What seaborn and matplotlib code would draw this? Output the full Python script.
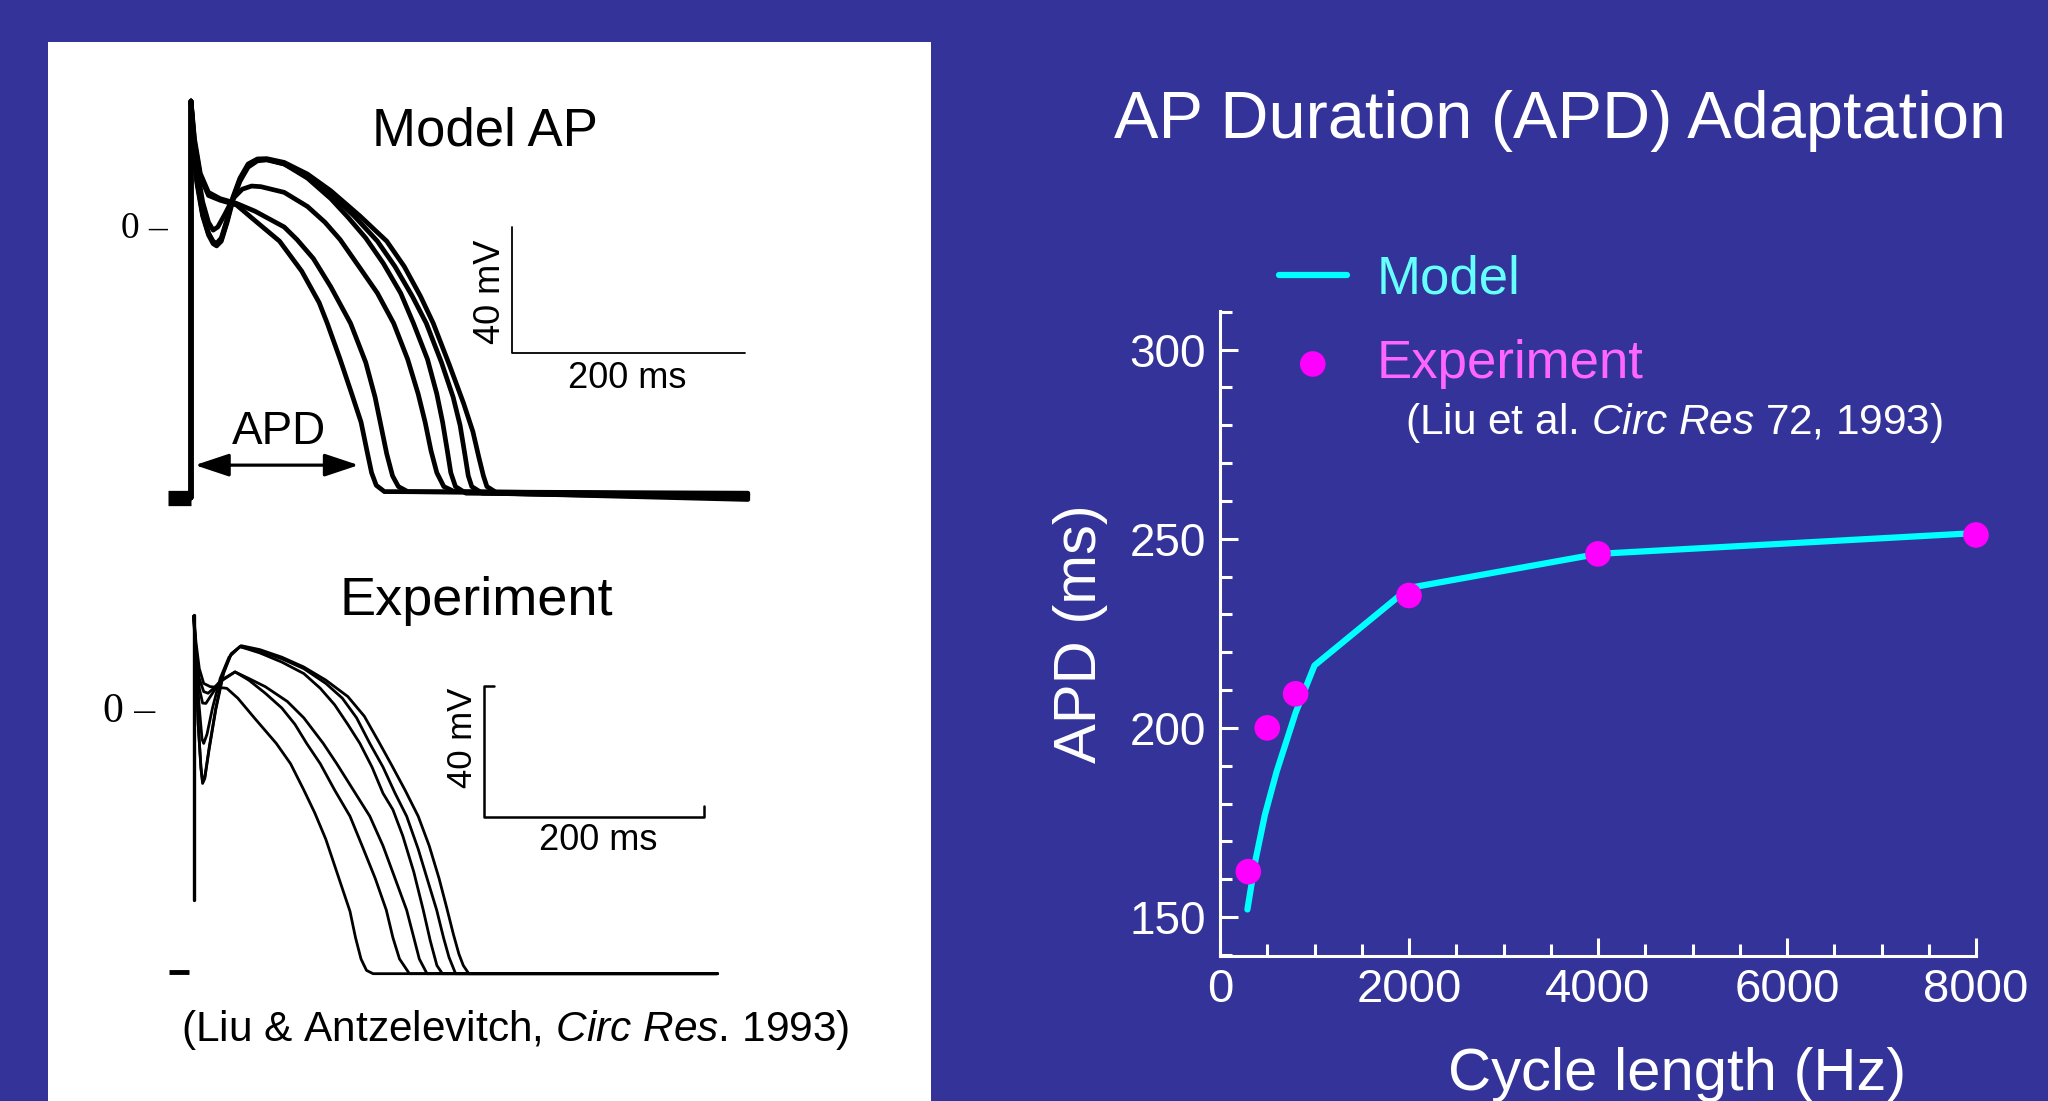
import numpy as np
import pandas as pd
import matplotlib
matplotlib.use('Agg')
import matplotlib.pyplot as plt
import seaborn as sns
from matplotlib.patches import Rectangle
from matplotlib.ticker import MultipleLocator, FixedLocator

# --- APD adaptation (right panel) ---
cycle_model = [290, 375, 475, 600, 800, 1000, 2000, 4000, 8000]
apd_model = [152, 165, 177, 188.5, 204, 216.5, 237, 246, 251.5]
cycle_exp = [300, 500, 800, 2000, 4000, 8000]
apd_exp = [162, 200, 209, 235, 246, 251]

# --- model action potentials (time ms, voltage mV) ---
model_a = [(0, -86), (0, 40), (3, 27), (8, 16), (15, 10), (25, 8.5), (39, 7), (55, 2), (76, -4.5),
           (95, -14), (110, -24), (117, -30.6), (128, -42), (138, -53), (146, -62), (151, -71),
           (155, -78), (159, -82), (166, -84), (478, -84.5)]
model_b = [(0, -86), (0, 40), (3, 28), (8, 17), (15, 11), (25, 9), (39, 7.5), (55, 5), (70, 2),
           (80, 0), (91, -4), (105, -10), (120, -19), (137, -30.6), (150, -43), (158, -54),
           (163, -63), (168, -72), (173, -79), (178, -82.4), (186, -84), (478, -85)]
model_c = [(0, -86), (0, 40), (2, 30), (5, 19), (10, 8), (15, 1.5), (19, -1), (23, 0), (29, 4),
           (36, 9), (44, 12), (52, 13), (60, 12.8), (80, 11), (100, 6.5), (115, 1.5), (128, -4),
           (145, -13), (160, -21), (174, -30.6), (186, -42), (195, -53), (201, -62), (206, -71),
           (211, -78), (217, -82.4), (226, -84), (478, -85)]
model_d = [(0, -86), (0, 40), (2, 28), (5, 15), (10, 4), (15, -2), (19, -4.8), (22, -5.5), (26, -4),
           (31, 2), (36, 9), (42, 15), (49, 19.5), (57, 21.3), (65, 21.5), (80, 20), (100, 15.5),
           (120, 9), (135, 3), (150, -3.5), (165, -11.5), (180, -21), (191, -30.6), (203, -42),
           (211, -53), (216, -62), (220, -71), (223, -78), (227, -82.4), (236, -84.5), (478, -85.5)]
model_e = [(0, -86), (0, 40), (2, 28), (5, 14), (10, 3.5), (15, -2.5), (19, -5.3), (22, -6),
           (26, -4.5), (31, 1.5), (36, 8.5), (42, 14.5), (49, 19), (57, 21), (65, 21.3), (80, 20),
           (100, 16.2), (120, 10.5), (140, 3.5), (160, -4.5), (175, -12.5), (190, -22), (202, -30.6),
           (215, -43), (225, -54), (231, -63), (235, -72), (238, -79), (241, -82.4), (250, -84.5),
           (478, -86)]
model_f = [(0, -86), (0, 40), (2, 29), (5, 15), (10, 4.5), (15, -2), (19, -4.6), (22, -5.2),
           (26, -3.5), (31, 2.5), (36, 9.5), (42, 15.5), (49, 20), (57, 21.6), (65, 21.7), (80, 20.5),
           (100, 16.8), (120, 11.5), (145, 3.5), (168, -4.5), (183, -12.5), (197, -22), (208, -30.6),
           (222, -44), (234, -56), (242, -65), (247, -73), (251, -79), (254, -82.4), (263, -84.5),
           (478, -86.5)]
model_stim = [(-20, -86), (0, -86)]
model_apd_arrow = [(3.4, -75.6), (143.9, -75.6)]
model_scalebar = [(275.5, 0), (275.5, -40), (475.5, -40)]

# --- experimental action potentials (Liu & Antzelevitch 1993) ---
exp_1 = [(0, 28), (2, 20), (5, 12), (9, 7.5), (15, 6.5), (22, 6.3), (30, 6), (40, 3), (55, -3),
         (75, -10.8), (88, -17), (100, -25), (110, -32), (120, -40), (130, -50), (138, -58),
         (142, -62), (147, -70), (152, -76.5), (157, -80), (163, -81), (476, -81)]
exp_2 = [(0, 28), (2, 18), (5, 9), (9, 5), (13, 4.5), (18, 6), (25, 8.5), (37.5, 11), (50, 8.5),
         (65, 4.5), (80, 0), (92, -5), (102.6, -10.8), (115, -17), (128, -25), (142, -33),
         (153, -42), (165, -52), (175, -61.6), (181, -70), (187, -76.5), (196, -81), (476, -81)]
exp_3 = [(0, 28), (2, 17), (5, 6), (8, 1.5), (11, 1.4), (16, 4), (24, 8), (37.5, 11), (50, 9),
         (65, 6.5), (85, 2), (100, -3), (117.7, -10.8), (130, -17), (145, -25), (160, -33),
         (172, -42), (183, -52), (193.5, -61.6), (200, -70), (205, -76.5), (212, -81), (476, -81)]
exp_4 = [(0, 28), (2, 15), (5, 0), (7.5, -9.5), (9, -10.8), (12, -8), (17, 0), (24, 9), (32, 15.5),
         (42, 18.7), (60, 16.8), (80, 14), (100, 10.5), (115, 6), (128, 1), (140, -5), (151, -10.8),
         (162, -18), (172, -26), (181, -31), (190, -39), (200, -50), (208.6, -61.6), (215, -71),
         (221, -78.5), (226, -81), (476, -81)]
exp_5 = [(0, 28), (2, 12), (4, -5), (6.5, -18), (8, -22.5), (10, -21), (14, -12), (20, 0), (27, 11),
         (34, 16.5), (42, 18.7), (60, 17.3), (80, 15), (100, 12), (120, 7.5), (135, 3), (148, -3),
         (160, -10.8), (172, -18), (183, -26), (193.5, -33), (204, -43), (213, -53),
         (220.8, -61.6), (227, -70), (232, -76), (238, -81), (476, -81)]
exp_6 = [(0, 28), (2, 12), (4, -5), (6.5, -18.5), (8, -23), (10, -21.5), (14, -12.5), (20, -0.5),
         (27, 10.5), (34, 16.5), (43, 19), (60, 17.8), (80, 15.5), (100, 12.5), (120, 8.5),
         (140, 3.5), (155, -2.5), (169, -10.8), (180, -17.5), (192, -25), (204, -33), (214, -42),
         (223, -52), (230, -61), (236, -69), (241, -75), (245, -78.5), (250, -81), (476, -81)]
exp_upstroke = [(0, -58.5), (0, 28.3)]
exp_dash = [(-22.5, -80.5), (-4.4, -80.5)]
exp_scalebar = [(272.5, 6.7), (263.5, 6.7), (263.5, -33.3), (463.5, -33.3), (463.5, -30)]

BG = '#333399'
W, H = 2048, 1101


def fx(x):
    return x / W


def fy(y):
    return 1 - y / H


def traces_frame(traces):
    rows = []
    for name, pts in traces.items():
        for i, (t, v) in enumerate(pts):
            rows.append({'trace': name, 'i': i, 't': t, 'v': v})
    return pd.DataFrame(rows)


sns.set_theme(style='ticks')
plt.rcParams['font.family'] = ['Liberation Sans', 'DejaVu Sans']
plt.rcParams['mathtext.fontset'] = 'custom'
plt.rcParams['mathtext.rm'] = 'Liberation Sans'
plt.rcParams['mathtext.it'] = 'Liberation Sans:italic'

fig = plt.figure(figsize=(W / 100, H / 100), dpi=100, facecolor=BG)

# white picture panel on the left (behind the trace axes)
fig.patches.append(Rectangle((fx(48), 0), fx(931) - fx(48), fy(42), transform=fig.transFigure,
                             facecolor='white', edgecolor='none', zorder=-5))


def trace_axes(t0, ppms, v0, ppmv, tlim=(-30, 490), vlim=(-95, 45)):
    left = t0 + tlim[0] * ppms
    right = t0 + tlim[1] * ppms
    top = v0 - vlim[1] * ppmv
    bottom = v0 - vlim[0] * ppmv
    ax = fig.add_axes([fx(left), fy(bottom), fx(right) - fx(left), fy(top) - fy(bottom)])
    ax.set_xlim(*tlim)
    ax.set_ylim(*vlim)
    ax.axis('off')
    return ax


# ---- Model AP ----
ax_m = trace_axes(191, 1.165, 227, 3.15)
df_m = traces_frame({'a': model_a, 'b': model_b, 'c': model_c, 'd': model_d, 'e': model_e, 'f': model_f})
sns.lineplot(data=df_m, x='t', y='v', units='trace', estimator=None, sort=False,
             color='black', lw=3.4, ax=ax_m, legend=False)
stim = pd.DataFrame(model_stim, columns=['t', 'v'])
ax_m.plot(stim.t, stim.v, color='black', lw=11, solid_capstyle='butt')
sb = pd.DataFrame(model_scalebar, columns=['t', 'v'])
ax_m.plot(sb.t, sb.v, color='black', lw=1.3)
ax_m.annotate('', xy=model_apd_arrow[0], xytext=model_apd_arrow[1],
              arrowprops=dict(arrowstyle='<|-|>,head_length=0.6,head_width=0.2',
                              mutation_scale=35, lw=2.3, color='black', shrinkA=0, shrinkB=0))

fig.text(fx(485), fy(131), 'Model AP', fontsize=38, ha='center', va='center', color='black')
fig.text(fx(121), fy(238), '0 \u2013', fontsize=27, ha='left', va='baseline',
         family=['Liberation Serif'], color='black')
fig.text(fx(490), fy(292), '40 mV', fontsize=26, rotation=90, ha='center', va='center', color='black')
fig.text(fx(627), fy(378), '200 ms', fontsize=26, ha='center', va='center', color='black')
fig.text(fx(279), fy(432), 'APD', fontsize=33, ha='center', va='center', color='black')

# ---- Experiment AP ----
ax_e = trace_axes(193.8, 1.1, 708, 3.28)
df_e = traces_frame({'1': exp_1, '2': exp_2, '3': exp_3, '4': exp_4, '5': exp_5, '6': exp_6})
sns.lineplot(data=df_e, x='t', y='v', units='trace', estimator=None, sort=False,
             color='black', lw=2.0, ax=ax_e, legend=False)
up = pd.DataFrame(exp_upstroke, columns=['t', 'v'])
ax_e.plot(up.t, up.v, color='black', lw=2.4)
dash = pd.DataFrame(exp_dash, columns=['t', 'v'])
ax_e.plot(dash.t, dash.v, color='black', lw=3.5, solid_capstyle='butt')
esb = pd.DataFrame(exp_scalebar, columns=['t', 'v'])
ax_e.plot(esb.t, esb.v, color='black', lw=1.8)

fig.text(fx(476), fy(615), 'Experiment', fontsize=39, ha='center', va='baseline', color='black')
fig.text(fx(103), fy(722), '0 \u2013', fontsize=30, ha='left', va='baseline',
         family=['Liberation Serif'], color='black')
fig.text(fx(462), fy(738), '40 mV', fontsize=25, rotation=90, ha='center', va='center', color='black')
fig.text(fx(598), fy(840), '200 ms', fontsize=26, ha='center', va='center', color='black')
fig.text(fx(515), fy(1041), r'(Liu & Antzelevitch, $\mathit{Circ\ Res}$. 1993)', fontsize=30.5,
         ha='center', va='baseline', color='black')

# ---- APD adaptation plot ----
ax = fig.add_axes([fx(1220), fy(956), fx(1976) - fx(1220), fy(311) - fy(956)])
ax.set_facecolor('none')
sns.lineplot(x=cycle_model, y=apd_model, color='#00ffff', lw=4.5, ax=ax, label='Model', sort=False)
sns.scatterplot(x=cycle_exp, y=apd_exp, color='#ff00ff', s=340, edgecolor='none', ax=ax,
                label='Experiment', zorder=4, clip_on=False)
ax.set_xlim(0, 8000)
ax.set_ylim(139.7, 310.2)
ax.xaxis.set_major_locator(FixedLocator([0, 2000, 4000, 6000, 8000]))
ax.xaxis.set_minor_locator(MultipleLocator(500))
ax.yaxis.set_major_locator(FixedLocator([150, 200, 250, 300]))
ax.yaxis.set_minor_locator(MultipleLocator(10))
for side in ['top', 'right']:
    ax.spines[side].set_visible(False)
for side in ['left', 'bottom']:
    ax.spines[side].set_color('white')
    ax.spines[side].set_linewidth(2.2)
ax.tick_params(which='both', direction='in', colors='white', width=2.2)
ax.tick_params(which='major', length=13)
ax.tick_params(which='minor', length=8.5)
ax.tick_params(axis='y', which='major', labelsize=33, pad=10)
ax.tick_params(axis='x', which='major', labelsize=34, pad=9)

ax.set_xlabel('Cycle length (Hz)', fontsize=43, color='white')
ax.xaxis.label.set_va('baseline')
ax.xaxis.set_label_coords(0.6045, (956 - 1090) / 645)
ax.set_ylabel('APD (ms)', fontsize=43, color='white')
ax.yaxis.label.set_va('center')
ax.yaxis.set_label_coords(-0.184, 0.5)

handles, labels = ax.get_legend_handles_labels()
leg = ax.legend(handles, labels, loc='upper left', bbox_to_anchor=(fx(1279), fy(254)),
                bbox_transform=fig.transFigure, frameon=False, fontsize=38, handlelength=1.28,
                handletextpad=0.57, labelspacing=0.66, borderpad=0, borderaxespad=0)
leg.get_texts()[0].set_color('#66ffff')
leg.get_texts()[1].set_color('#ff66ff')

fig.text(fx(1405), fy(434), r'(Liu et al. $\mathit{Circ\ Res}$ 72, 1993)', fontsize=30.5,
         ha='left', va='baseline', color='white')
fig.text(fx(1560), fy(138), 'AP Duration (APD) Adaptation', fontsize=48, ha='center',
         va='baseline', color='white')

fig.savefig('out.png', dpi=100, facecolor=BG)
